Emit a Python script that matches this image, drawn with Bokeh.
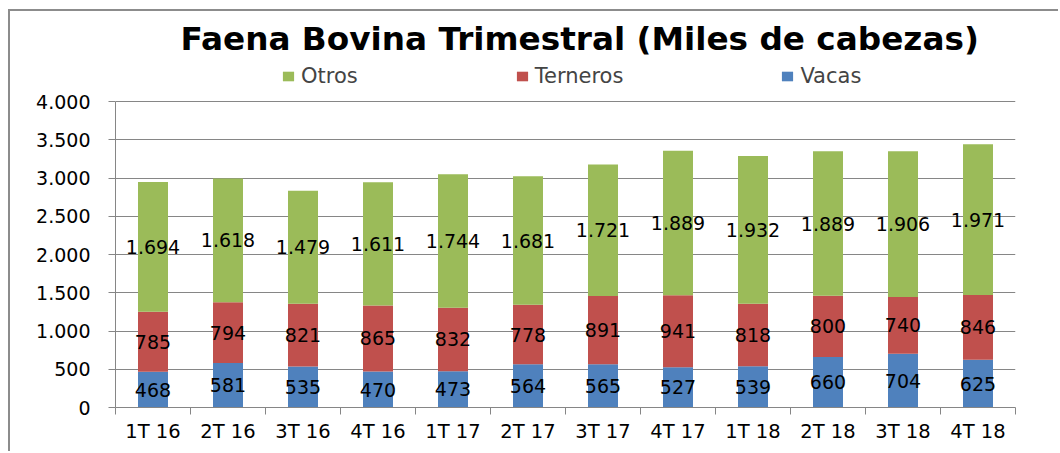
from bokeh.plotting import figure
from bokeh.models import ColumnDataSource, Range1d, FixedTicker, Legend, LegendItem
from bokeh.embed import file_html
from bokeh.resources import INLINE
from bokeh.core.properties import value

categories = ["1T 16", "2T 16", "3T 16", "4T 16", "1T 17", "2T 17", "3T 17", "4T 17",
              "1T 18", "2T 18", "3T 18", "4T 18"]
vacas = [468, 581, 535, 470, 473, 564, 565, 527, 539, 660, 704, 625]
terneros = [785, 794, 821, 865, 832, 778, 891, 941, 818, 800, 740, 846]
otros = [1694, 1618, 1479, 1611, 1744, 1681, 1721, 1889, 1932, 1889, 1906, 1971]
y_ticks = [0, 500, 1000, 1500, 2000, 2500, 3000, 3500, 4000]
y_tick_labels = ["0", "500", "1.000", "1.500", "2.000", "2.500", "3.000", "3.500", "4.000"]

BLUE = "#4F81BD"
RED = "#C0504D"
GREEN = "#9BBB59"
GRAY = "#868686"
FONT = "DejaVu Sans"


def fmt(v):
    return f"{v:,}".replace(",", ".")


x = [i + 0.5 for i in range(len(categories))]
src = ColumnDataSource(dict(x=x, Vacas=vacas, Terneros=terneros, Otros=otros))

# the frame extends above the 4.000 line to host the legend (axis is bounded to 0..4000)
p = figure(width=1050, height=442, x_range=Range1d(0, len(categories)), y_range=Range1d(0, 4510),
           output_backend="svg", toolbar_location=None,
           min_border_left=105, min_border_right=45, min_border_top=51, min_border_bottom=46)
p.styles = {"margin-left": "8px", "margin-top": "9px",
            "border-left": "2px solid #8c8c8c", "border-top": "2px solid #8c8c8c"}

rs = p.vbar_stack(["Vacas", "Terneros", "Otros"], x="x", width=0.4, source=src,
                  fill_color=[BLUE, RED, GREEN], line_color=None)

# data labels
lx, ly, lt = [], [], []
for i in range(len(categories)):
    base = 0
    for series in (vacas, terneros, otros):
        v = series[i]
        lx.append(x[i])
        ly.append(base + v / 2)
        lt.append(fmt(v))
        base += v
p.text(x=lx, y=ly, text=lt, text_align="center", text_baseline="middle",
       text_font=value(FONT), text_font_size="19px", text_color="black")

# title
p.title.text = "Faena Bovina Trimestral (Miles de cabezas)"
p.title.align = "left"
p.title.offset = 65
p.title.text_font = FONT
p.title.text_font_size = "32.7px"
p.title.text_font_style = "bold"
p.title.text_color = "black"

# legend
legend = Legend(items=[LegendItem(label="Otros", renderers=[rs[2]]),
                       LegendItem(label="Terneros", renderers=[rs[1]]),
                       LegendItem(label="Vacas", renderers=[rs[0]])],
                orientation="horizontal", location=(166, 319),
                label_text_font=FONT, label_text_font_size="21px",
                glyph_width=14, glyph_height=12, label_standoff=6, spacing=157,
                border_line_color=None, background_fill_alpha=0, padding=0, margin=0)
p.add_layout(legend, "center")

# axes
p.outline_line_color = None
p.xgrid.visible = False
p.ygrid.ticker = FixedTicker(ticks=y_ticks)
p.ygrid.grid_line_color = GRAY
p.ygrid.grid_line_width = 1

xa = p.xaxis[0]
xa.ticker = FixedTicker(ticks=x, minor_ticks=list(range(len(categories) + 1)))
xa.major_label_overrides = {xi: c for xi, c in zip(x, categories)}
xa.major_tick_out = 0
xa.major_tick_in = 0
xa.minor_tick_out = 7
xa.minor_tick_in = 0
xa.minor_tick_line_color = GRAY
xa.axis_line_color = GRAY
xa.major_label_standoff = 5
xa.major_label_text_font = FONT
xa.major_label_text_font_size = "19.5px"
xa.major_label_text_color = "black"

ya = p.yaxis[0]
ya.ticker = FixedTicker(ticks=y_ticks)
ya.bounds = (0, 4000)
ya.major_label_overrides = {t: l for t, l in zip(y_ticks, y_tick_labels)}
ya.major_tick_out = 7
ya.major_tick_in = 0
ya.minor_tick_line_color = None
ya.major_tick_line_color = GRAY
ya.axis_line_color = GRAY
ya.major_label_standoff = 18
ya.major_label_text_font = FONT
ya.major_label_text_font_size = "19px"
ya.major_label_text_color = "black"

open("out.html", "w").write(file_html(p, INLINE))
